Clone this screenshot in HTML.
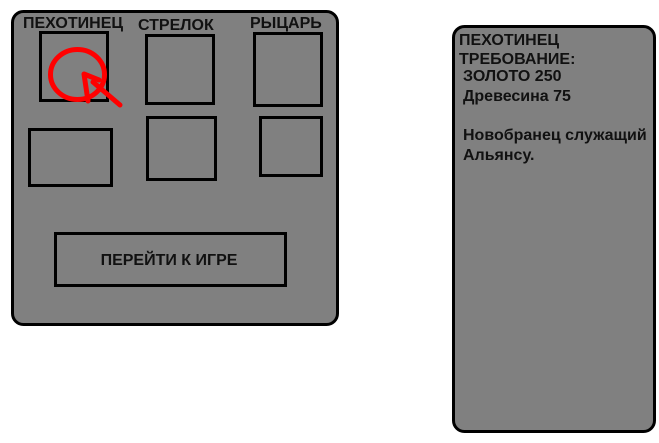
<!DOCTYPE html>
<html><head><meta charset="utf-8"><style>html,body{margin:0;padding:0;background:#fff;width:659px;height:443px;overflow:hidden}</style></head>
<body>
<svg width="659" height="443" xmlns="http://www.w3.org/2000/svg" font-family="Liberation Sans, sans-serif" font-weight="bold">
<rect x="12.5" y="11.5" width="325" height="313" rx="11" fill="#808080" stroke="#000" stroke-width="3"/>
<rect x="453.5" y="26.5" width="201" height="405" rx="11" fill="#808080" stroke="#000" stroke-width="3"/>
<g fill="none" stroke="#000" stroke-width="3">
<rect x="40.5" y="32.5" width="67" height="68"/>
<rect x="146.5" y="35.5" width="67" height="68"/>
<rect x="254.5" y="33.5" width="67" height="72"/>
<rect x="29.5" y="129.5" width="82" height="56"/>
<rect x="147.5" y="117.5" width="68" height="62"/>
<rect x="260.5" y="117.5" width="61" height="58"/>
<rect x="55.5" y="233.5" width="230" height="52"/>
</g>
<g font-size="16" fill="#111">
<text x="23" y="28">ПЕХОТИНЕЦ</text>
<text x="138" y="30">СТРЕЛОК</text>
<text x="250" y="28">РЫЦАРЬ</text>
<text x="169" y="265" text-anchor="middle">ПЕРЕЙТИ К ИГРЕ</text>
<text x="459" y="45">ПЕХОТИНЕЦ</text>
<text x="459" y="64">ТРЕБОВАНИЕ:</text>
<text x="463" y="81">ЗОЛОТО 250</text>
<text x="463" y="101">Древесина 75</text>
<text x="463" y="140">Новобранец служащий</text>
<text x="463" y="160">Альянсу.</text>
</g>
<g fill="none" stroke="#f00" stroke-width="5" stroke-linecap="round" stroke-linejoin="round">
<ellipse cx="77.5" cy="74.5" rx="27" ry="25"/>
<path d="M88 101 L84 74 L99 80 L84 74"/>
<path d="M93 82 L120 105"/>
</g>
</svg>
</body></html>
